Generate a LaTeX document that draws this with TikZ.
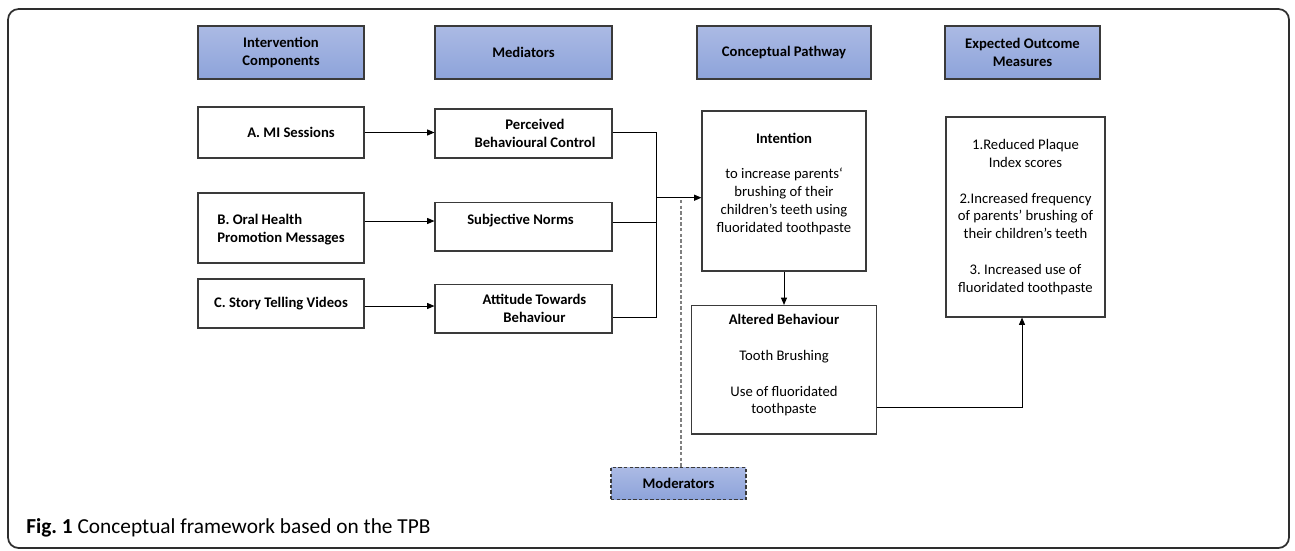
\documentclass[tikz,border=0pt]{standalone}
\usepackage{fontspec}
\setmainfont{Carlito}
\frenchspacing
\usetikzlibrary{arrows.meta,calc}
\definecolor{hdtop}{HTML}{ABBAE4}
\definecolor{hdbot}{HTML}{8DA3DA}
\definecolor{edge}{HTML}{3A3A3A}
\definecolor{frame}{HTML}{2E2E2E}
\begin{document}
\begin{tikzpicture}[x=0.75pt,y=-0.75pt,
  nodefont/.style={font=\fontsize{11}{13.35}\selectfont},
  wh/.style 2 args={minimum width=#1*0.75pt, minimum height=#2*0.75pt},
  box/.style={draw=edge, line width=0.8pt, rectangle, align=center, inner sep=0pt, nodefont, fill=white},
  hdr/.style={box, top color=hdtop, bottom color=hdbot, font=\fontsize{11}{13.35}\selectfont\bfseries},
  lbl/.style={align=center, inner sep=0pt, nodefont},
  conn/.style={draw=black, line width=0.75pt},
  arr/.style={conn, -{Triangle[length=5.5pt,width=4.5pt]}},
  modline/.style={draw=gray, line width=0.9pt, dash pattern=on 2.6pt off 1.6pt}
]
\useasboundingbox (0,0) rectangle (1295,550);
% outer frame
\draw[frame, line width=1.3pt, rounded corners=8pt] (8,9) rectangle (1289,548);

% headers
\node[hdr,wh={166}{53}] (hInt) at (281,52.5) {Intervention\\Components};
\node[hdr,wh={177}{53}] (hMed) at (523.5,52.5) {Mediators};
\node[hdr,wh={174}{53}] (hCP) at (784,52.5) {Conceptual Pathway};
\node[hdr,wh={155}{53}] (hEO) at (1022.5,52.5) {Expected Outcome\\Measures};

% intervention components
\node[box,wh={166}{51}, label={[lbl,font=\fontsize{11}{13.35}\selectfont\bfseries,xshift=7.5pt]center:A. MI Sessions}] (A) at (281,132.5) {};
\node[box,wh={166}{70}, label={[lbl,align=left,font=\fontsize{11}{13.35}\selectfont\bfseries,yshift=-1.2pt]center:B. Oral Health\\Promotion Messages}] (B) at (281,228) {};
\node[box,wh={166}{49}, font=\fontsize{11}{13.35}\selectfont\bfseries] (C) at (281,303.5) {C. Story Telling Videos};

% mediators
\node[box,wh={177}{49}, label={[lbl,font=\fontsize{11}{13.35}\selectfont\bfseries,xshift=8.6pt]center:Perceived\\Behavioural Control}] (PBC) at (523.5,133.5) {};
\node[box,wh={177}{48.5}, label={[lbl,font=\fontsize{11}{13.35}\selectfont\bfseries,xshift=-2.2pt,yshift=4.3pt]center:Subjective Norms}] (SN) at (523.5,226.75) {};
\node[box,wh={177}{48.5}, label={[lbl,font=\fontsize{11}{13.35}\selectfont\bfseries,xshift=8.2pt]center:Attitude Towards\\Behaviour}] (ATT) at (523.5,308.75) {};

% conceptual pathway
\node[box,wh={164}{160}, label={[lbl,yshift=5.5pt]center:\textbf{Intention}\\[13.35pt]to increase parents‘\\brushing of their\\children’s teeth using\\fluoridated toothpaste}] (INT) at (784,191) {};
\node[box,wh={185}{128.5}, label={[lbl,yshift=3.3pt]center:\textbf{Altered Behaviour}\\[13.35pt]Tooth Brushing\\[13.35pt]Use of fluoridated\\toothpaste}] (ALT) at (784,369.75) {};

% outcomes
\node[box,wh={159}{200}] (OUT) at (1025.5,217) {1.Reduced Plaque\\Index scores\\[13.35pt]2.Increased frequency\\of parents’ brushing of\\their children’s teeth\\[13.35pt]3. Increased use of\\fluoridated toothpaste};

% moderators
\node[hdr,wh={135}{32}, dash pattern=on 2.6pt off 1.6pt] (MOD) at (678.5,483.5) {Moderators};

% connectors
\draw[arr] (A.east |- 0,132.5) -- (PBC.west |- 0,132.5);
\draw[arr] (B.east |- 0,221) -- (SN.west |- 0,221);
\draw[arr] (C.east |- 0,306) -- (ATT.west |- 0,306);

\coordinate (J1) at (656,132.7);
\coordinate (J3) at (656,317.3);
\coordinate (JM) at (656,197.7);
\draw[conn] (PBC.east |- J1) -- (J1) -- (J3) -- (ATT.east |- J3);
\draw[conn] (SN.east |- 0,222.3) -- (656,222.3);
\draw[arr] (JM) -- (INT.west |- JM);

\coordinate (D0) at (681,200);
\draw[modline] (D0) -- (MOD.north -| D0);

\draw[arr] (INT.south) -- (ALT.north);
\coordinate (K) at (1022,407.3);
\draw[arr] (ALT.east |- K) -- (K) -- (OUT.south -| K);

% caption
\node[anchor=base west, inner sep=0pt, font=\fontsize{16}{19}\selectfont] (CAP) at (26,533) {\textbf{Fig.~1} Conceptual framework based on the TPB};
\end{tikzpicture}
\end{document}
